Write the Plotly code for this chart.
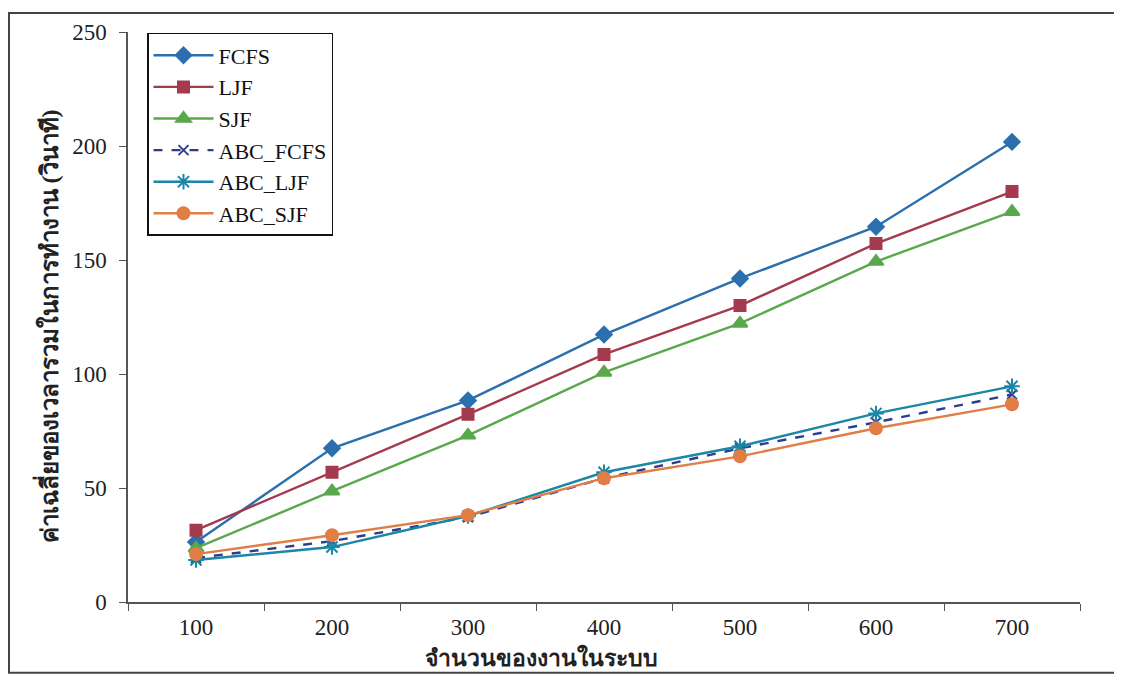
import plotly.graph_objects as go

categories = ["100", "200", "300", "400", "500", "600", "700"]
fcfs = [26.3, 67.4, 88.4, 117.3, 141.9, 164.6, 201.8]
ljf = [31.5, 56.9, 82.3, 108.6, 130.0, 157.2, 180.0]
sjf = [23.6, 48.6, 73.1, 100.7, 122.2, 149.3, 171.2]
abc_fcfs = [19.3, 26.7, 37.2, 54.3, 67.4, 78.8, 91.0]
abc_ljf = [18.4, 24.1, 37.7, 56.9, 68.3, 82.7, 94.6]
abc_sjf = [21.0, 29.3, 38.1, 54.3, 63.9, 76.2, 86.7]
y_ticks = [0, 50, 100, 150, 200, 250]

x_title = "จำนวนของงานในระบบ"
y_title = "ค่าเฉลี่ยของเวลารวมในการทำงาน (วินาที)"

serif = "Liberation Serif, Times New Roman, serif"

series = [
    ("FCFS", fcfs, "#2b6fae", "solid", "diamond", 12),
    ("LJF", ljf, "#a33a4e", "solid", "square", 11),
    ("SJF", sjf, "#5aa84c", "solid", "triangle-up", 13),
    ("ABC_FCFS", abc_fcfs, "#2d3d8e", "dash", "x-thin-open", 10),
    ("ABC_LJF", abc_ljf, "#1b86a6", "solid", "asterisk-open", 13),
    ("ABC_SJF", abc_sjf, "#e07e45", "solid", "circle", 12),
]

fig = go.Figure()
for name, vals, color, dash, sym, size in series:
    fig.add_trace(go.Scatter(
        x=categories, y=vals, name=name, mode="lines+markers",
        line=dict(color=color, width=2.4, dash=dash),
        marker=dict(symbol=sym, size=size, color=color,
                    line=dict(color=color, width=2)),
    ))

# page is offset by the body margin (8px)
OFF = 8
W, H = 1122, 679
L, R, T, B = 128 - OFF, 1080 - OFF, 29 - OFF, 602 - OFF
pw, ph = R - L, B - T

def px_x(x):
    return (x - OFF - L) / pw

def px_y(y):
    return (B - (y - OFF)) / ph

fig.update_layout(
    width=W, height=H,
    margin=dict(l=L, r=W - R, t=T, b=H - B),
    paper_bgcolor="white", plot_bgcolor="white",
    font=dict(family=serif, size=23, color="#222"),
    showlegend=True,
    legend=dict(x=px_x(147), y=px_y(30), xanchor="left", yanchor="top",
                bgcolor="white", bordercolor="#111", borderwidth=1.5,
                font=dict(family=serif, size=22, color="#111"),
                tracegroupgap=0, itemwidth=60),
    xaxis=dict(type="category", range=[-0.5, 6.5], showgrid=False,
               showline=True, linecolor="#555", linewidth=1.5,
               ticks="outside", ticklen=7, tickcolor="#555", tickson="boundaries",
               ticklabelstandoff=4,
               tickfont=dict(family=serif, size=23, color="#222"), zeroline=False),
    yaxis=dict(range=[0, 250], tickvals=y_ticks, showgrid=False,
               showline=True, linecolor="#555", linewidth=1.5,
               ticks="outside", ticklen=7, tickcolor="#555",
               ticklabelstandoff=8,
               tickfont=dict(family=serif, size=23, color="#222"), zeroline=False),
    shapes=[dict(type="rect", xref="paper", yref="paper",
                 x0=px_x(9), x1=px_x(1119), y0=px_y(673), y1=px_y(10),
                 line=dict(color="#444", width=2), fillcolor="rgba(0,0,0,0)", layer="below")],
    annotations=[
        dict(text="<b>" + x_title + "</b>", xref="paper", yref="paper",
             x=px_x(541), y=px_y(658), xanchor="center", yanchor="middle",
             showarrow=False, font=dict(family=serif, size=23, color="#222")),
        dict(text="<b>" + y_title + "</b>", xref="paper", yref="paper",
             x=px_x(47), y=px_y(325), xanchor="center", yanchor="middle",
             showarrow=False, textangle=-90,
             font=dict(family=serif, size=24, color="#222")),
    ],
)

fig.write_html("out.html")
